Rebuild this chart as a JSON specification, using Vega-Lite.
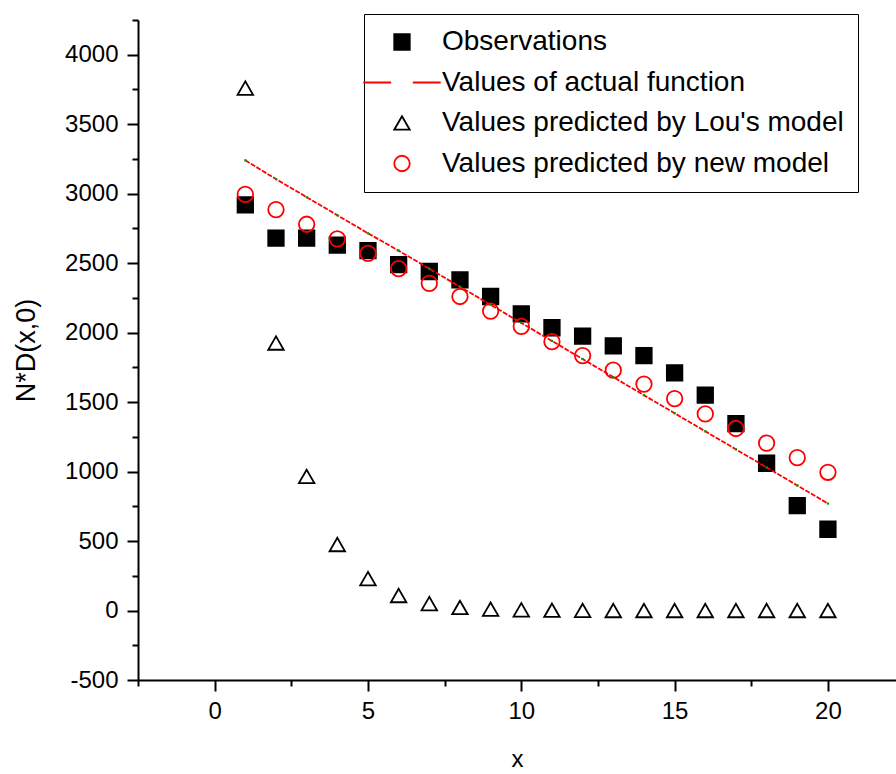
{
  "$schema": "https://vega.github.io/schema/vega-lite/v6.json",
  "width": 758,
  "height": 660,
  "autosize": {"type": "none"},
  "padding": {"left": 138, "top": 20, "right": 0, "bottom": 94},
  "background": "white",
  "config": {
    "view": {"stroke": null},
    "font": "Liberation Sans",
    "axis": {
      "grid": false,
      "domainColor": "black",
      "domainWidth": 2,
      "tickColor": "black",
      "tickWidth": 2,
      "labelColor": "black",
      "labelFont": "Liberation Sans",
      "labelFontSize": 24,
      "titleFont": "Liberation Sans",
      "titleFontWeight": "normal",
      "titleColor": "black"
    }
  },
  "datasets": {
    "pts": [
      {"x": 1, "y": 2920, "series": "Observations"},
      {"x": 2, "y": 2680, "series": "Observations"},
      {"x": 3, "y": 2680, "series": "Observations"},
      {"x": 4, "y": 2630, "series": "Observations"},
      {"x": 5, "y": 2590, "series": "Observations"},
      {"x": 6, "y": 2490, "series": "Observations"},
      {"x": 7, "y": 2440, "series": "Observations"},
      {"x": 8, "y": 2380, "series": "Observations"},
      {"x": 9, "y": 2260, "series": "Observations"},
      {"x": 10, "y": 2135, "series": "Observations"},
      {"x": 11, "y": 2035, "series": "Observations"},
      {"x": 12, "y": 1975, "series": "Observations"},
      {"x": 13, "y": 1905, "series": "Observations"},
      {"x": 14, "y": 1835, "series": "Observations"},
      {"x": 15, "y": 1710, "series": "Observations"},
      {"x": 16, "y": 1550, "series": "Observations"},
      {"x": 17, "y": 1345, "series": "Observations"},
      {"x": 18, "y": 1060, "series": "Observations"},
      {"x": 19, "y": 755, "series": "Observations"},
      {"x": 20, "y": 585, "series": "Observations"},
      {"x": 1, "y": 3760, "series": "Values predicted by Lou's model"},
      {"x": 2, "y": 1925, "series": "Values predicted by Lou's model"},
      {"x": 3, "y": 965, "series": "Values predicted by Lou's model"},
      {"x": 4, "y": 475, "series": "Values predicted by Lou's model"},
      {"x": 5, "y": 230, "series": "Values predicted by Lou's model"},
      {"x": 6, "y": 108, "series": "Values predicted by Lou's model"},
      {"x": 7, "y": 50, "series": "Values predicted by Lou's model"},
      {"x": 8, "y": 22, "series": "Values predicted by Lou's model"},
      {"x": 9, "y": 10, "series": "Values predicted by Lou's model"},
      {"x": 10, "y": 5, "series": "Values predicted by Lou's model"},
      {"x": 11, "y": 2, "series": "Values predicted by Lou's model"},
      {"x": 12, "y": 1, "series": "Values predicted by Lou's model"},
      {"x": 13, "y": 0, "series": "Values predicted by Lou's model"},
      {"x": 14, "y": 0, "series": "Values predicted by Lou's model"},
      {"x": 15, "y": 0, "series": "Values predicted by Lou's model"},
      {"x": 16, "y": 0, "series": "Values predicted by Lou's model"},
      {"x": 17, "y": 0, "series": "Values predicted by Lou's model"},
      {"x": 18, "y": 0, "series": "Values predicted by Lou's model"},
      {"x": 19, "y": 0, "series": "Values predicted by Lou's model"},
      {"x": 20, "y": 0, "series": "Values predicted by Lou's model"},
      {"x": 1, "y": 2995, "series": "Values predicted by new model"},
      {"x": 2, "y": 2885, "series": "Values predicted by new model"},
      {"x": 3, "y": 2780, "series": "Values predicted by new model"},
      {"x": 4, "y": 2675, "series": "Values predicted by new model"},
      {"x": 5, "y": 2570, "series": "Values predicted by new model"},
      {"x": 6, "y": 2460, "series": "Values predicted by new model"},
      {"x": 7, "y": 2355, "series": "Values predicted by new model"},
      {"x": 8, "y": 2260, "series": "Values predicted by new model"},
      {"x": 9, "y": 2155, "series": "Values predicted by new model"},
      {"x": 10, "y": 2045, "series": "Values predicted by new model"},
      {"x": 11, "y": 1935, "series": "Values predicted by new model"},
      {"x": 12, "y": 1835, "series": "Values predicted by new model"},
      {"x": 13, "y": 1730, "series": "Values predicted by new model"},
      {"x": 14, "y": 1630, "series": "Values predicted by new model"},
      {"x": 15, "y": 1525, "series": "Values predicted by new model"},
      {"x": 16, "y": 1415, "series": "Values predicted by new model"},
      {"x": 17, "y": 1310, "series": "Values predicted by new model"},
      {"x": 18, "y": 1205, "series": "Values predicted by new model"},
      {"x": 19, "y": 1100, "series": "Values predicted by new model"},
      {"x": 20, "y": 995, "series": "Values predicted by new model"}
    ],
    "actual": [
      {"x": 1, "y": 3240}, {"x": 2, "y": 3105}, {"x": 3, "y": 2975}, {"x": 4, "y": 2845},
      {"x": 5, "y": 2715}, {"x": 6, "y": 2590}, {"x": 7, "y": 2460}, {"x": 8, "y": 2330},
      {"x": 9, "y": 2200}, {"x": 10, "y": 2070}, {"x": 11, "y": 1940}, {"x": 12, "y": 1810},
      {"x": 13, "y": 1680}, {"x": 14, "y": 1550}, {"x": 15, "y": 1420}, {"x": 16, "y": 1290},
      {"x": 17, "y": 1160}, {"x": 18, "y": 1030}, {"x": 19, "y": 900}, {"x": 20, "y": 770}
    ]
  },
  "encoding": {
    "x": {
      "field": "x", "type": "quantitative",
      "scale": {"domain": [-2.5, 22.22], "nice": false, "zero": false},
      "axis": {
        "title": "x",
        "titleFontSize": 24,
        "values": [-2.5, 0, 2.5, 5, 7.5, 10, 12.5, 15, 17.5, 20],
        "labelExpr": "datum.value % 5 === 0 ? '' + datum.value : ''",
        "tickSize": {"condition": {"test": "datum.value % 5 === 0", "value": 11}, "value": 6},
        "labelPadding": 8,
        "titlePadding": 24
      }
    },
    "y": {
      "field": "y", "type": "quantitative",
      "scale": {"domain": [-500, 4250], "nice": false, "zero": false},
      "axis": {
        "title": "N*D(x,0)",
        "titleFontSize": 27,
        "values": [-500, -250, 0, 250, 500, 750, 1000, 1250, 1500, 1750, 2000, 2250, 2500, 2750, 3000, 3250, 3500, 3750, 4000, 4250],
        "labelExpr": "datum.value % 500 === 0 ? '' + datum.value : ''",
        "tickSize": {"condition": {"test": "datum.value % 500 === 0", "value": 11}, "value": 6},
        "labelPadding": 9,
        "titlePadding": 24
      }
    }
  },
  "layer": [
    {
      "data": {"name": "pts"},
      "mark": {"type": "point", "opacity": 1, "strokeWidth": 1.8, "size": 240},
      "encoding": {
        "shape": {
          "field": "series", "type": "nominal",
          "scale": {
            "domain": ["Observations", "Values of actual function", "Values predicted by Lou's model", "Values predicted by new model"],
            "range": ["square", "M-5,0L-1.4,0M1.4,0L5,0", "triangle-up", "circle"]
          },
          "legend": {
            "title": null,
            "orient": "none",
            "legendX": 226,
            "legendY": -6,
            "padding": 14,
            "rowPadding": 12.5,
            "symbolOffset": 10,
            "labelOffset": 26,
            "labelFont": "Liberation Sans",
            "labelFontSize": 28,
            "labelColor": "black",
            "labelLimit": 600,
            "strokeColor": "black",
            "fillColor": "white",
            "symbolSize": 240,
            "symbolStrokeWidth": 1.8,
            "encode": {"legend": {"update": {"strokeWidth": {"value": 2}}}}
          }
        },
        "fill": {
          "field": "series", "type": "nominal",
          "scale": {
            "domain": ["Observations", "Values of actual function", "Values predicted by Lou's model", "Values predicted by new model"],
            "range": ["black", "transparent", "transparent", "transparent"]
          },
          "legend": {"title": null}
        },
        "stroke": {
          "field": "series", "type": "nominal",
          "scale": {
            "domain": ["Observations", "Values of actual function", "Values predicted by Lou's model", "Values predicted by new model"],
            "range": ["black", "red", "black", "red"]
          },
          "legend": {"title": null}
        }
      }
    },
    {
      "data": {"name": "actual"},
      "mark": {"type": "line", "color": "red", "strokeWidth": 1.8, "strokeDash": [5, 1.5]},
      "encoding": {}
    },
    {
      "data": {"name": "actual"},
      "mark": {"type": "point", "shape": "square", "filled": true, "color": "#00a000", "opacity": 1, "size": 5},
      "encoding": {}
    }
  ]
}
